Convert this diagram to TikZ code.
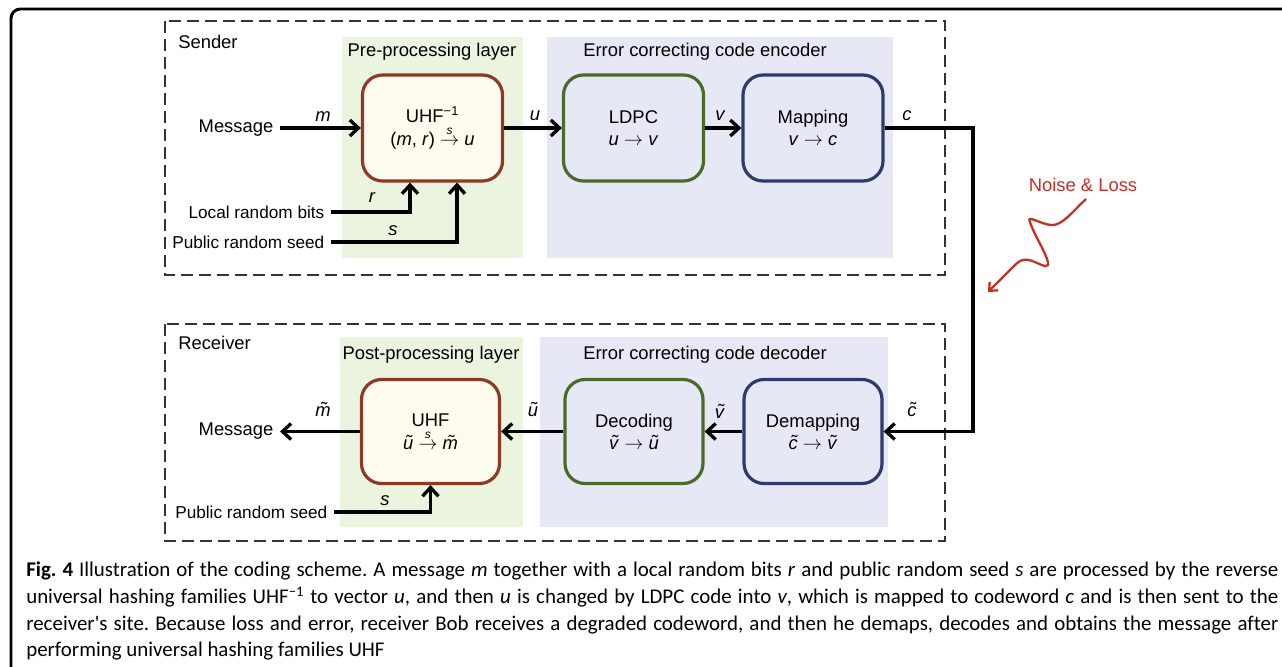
\documentclass[tikz,border=0pt]{standalone}
\usepackage{fontspec}
\setmainfont{Liberation Sans}
\newfontfamily\capfont[Ligatures={NoCommon}]{Carlito}
\usetikzlibrary{arrows.meta,calc}

\definecolor{layergreen}{HTML}{EAF4DE}
\definecolor{layerblue}{HTML}{E6E8F5}
\definecolor{uhfborder}{HTML}{8B3A24}
\definecolor{ldpcborder}{HTML}{4B6B2C}
\definecolor{mapborder}{HTML}{2F3A6C}
\definecolor{uhffill}{HTML}{FFFBEF}
\definecolor{noisered}{HTML}{C62D25}
\definecolor{framegray}{HTML}{333333}

\newcommand{\tl}[1]{{\ooalign{\textit{#1}\cr\hidewidth\kern0.15em\raisebox{0.1ex}{\char"02DC}\hidewidth\cr}}}
\newcommand{\sto}{\ensuremath{\stackrel{\raisebox{1.2pt}{\fontsize{9}{9}\selectfont\itshape s}}{\rightarrow}}}

\tikzset{
  dtext/.style={font=\fontsize{13.8}{16.5}\selectfont, inner sep=0pt},
  vlbl/.style={font=\fontsize{13.8}{16.5}\selectfont\itshape, inner sep=0pt},
  src/.style={dtext, outer xsep=5pt},
  smallsrc/.style={src, font=\fontsize{12.9}{15}\selectfont},
  proc/.style={draw, line width=2.4pt, rounded corners=15pt, align=center,
    font=\fontsize{13.8}{16.5}\selectfont, inner sep=0pt},
  sendbox/.style={proc, minimum width=105pt, minimum height=79.5pt},
  recvbox/.style={proc, minimum width=103.5pt, minimum height=78pt},
  conn/.style={line width=2.5pt},
  arr/.style={conn, -{Straight Barb[length=6.5pt,width=12pt]}},
  frame/.style={draw=framegray, line width=1.1pt, dash pattern=on 9pt off 4.5pt},
}

\begin{document}
\begin{tikzpicture}[x=0.75pt, y=-0.75pt]
\useasboundingbox (0,0) rectangle (1282,667);

% outer frame
\draw[line width=2.2pt, rounded corners=7pt] (11,672) -- (11,9) -- (1290,9);

% dashed site frames
\draw[frame] (165,21) rectangle (945,275);
\draw[frame] (165,324) rectangle (945,541);

% layers
\fill[layergreen] (342,37) rectangle (523,258);
\fill[layerblue] (547,37) rectangle (893,258);
\fill[layergreen] (340,337) rectangle (523,527);
\fill[layerblue] (540,337) rectangle (888,527);

\node[dtext, anchor=west] (sender) at (178,42) {Sender};
\node[dtext, anchor=west] (receiver) at (178,343) {Receiver};
\node[dtext] (pre) at (432,52) {Pre-processing layer};
\node[dtext] (enc) at (705,52) {Error correcting code encoder};
\node[dtext] (post) at (431,355) {Post-processing layer};
\node[dtext] (decl) at (705,355) {Error correcting code decoder};

% sender boxes
\node[sendbox, draw=uhfborder, fill=uhffill] (uhfi) at (432.5,128)
  {UHF\textsuperscript{\char"2212 1}\\[1pt](\textit{m}, \textit{r}) \sto\ \textit{u}};
\node[sendbox, draw=ldpcborder] (ldpc) at (633.5,128)
  {LDPC\\\textit{u} $\rightarrow$ \textit{v}};
\node[sendbox, draw=mapborder] (map) at (813,128)
  {Mapping\\\textit{v} $\rightarrow$ \textit{c}};

% receiver boxes
\node[recvbox, draw=uhfborder, fill=uhffill] (uhf) at (430.5,431.5)
  {UHF\\[1pt]\tl{u} \sto\ \tl{m}};
\node[recvbox, draw=ldpcborder] (dec) at (634,431.5)
  {Decoding\\\tl{v} $\rightarrow$ \tl{u}};
\node[recvbox, draw=mapborder] (demap) at (813,431.5)
  {Demapping\\\tl{c} $\rightarrow$ \tl{v}};

% sources / sinks
\node[src, anchor=east] (msg1) at (280,128) {Message};
\node[smallsrc, anchor=east] (loc) at (331,212) {Local random bits};
\node[smallsrc, anchor=east] (seed1) at (331,242) {Public random seed};
\node[src, anchor=east] (msg2) at (280,431.5) {Message};
\node[smallsrc, anchor=east] (seed2) at (334,512) {Public random seed};

% sender connectors
\draw[arr] (msg1.east) -- (uhfi.west);
\draw[arr] (loc.east) -| ($(uhfi.south)+(-22.5,0)$);
\draw[arr] (seed1.east) -| ($(uhfi.south)+(24.5,0)$);
\draw[arr] (uhfi.east) -- (ldpc.west);
\draw[arr] (ldpc.east) -- (map.west);
\coordinate (c1) at (973,128);
\coordinate (c2) at (973,431.5);
\draw[arr] (map.east) -- (c1) -- (c2) -- (demap.east);

% receiver connectors
\draw[arr] (demap.west) -- (dec.east);
\draw[arr] (dec.west) -- (uhf.east);
\draw[arr] (uhf.west) -- (msg2.east);
\draw[arr] (seed2.east) -| (uhf.south);

% connector labels
\node[vlbl] (lm) at (323,117) {m};
\node[vlbl] (lu) at (535,116) {u};
\node[vlbl] (lv) at (720,116) {v};
\node[vlbl] (lc) at (907,116) {c};
\node[vlbl] (lr) at (372,198) {r};
\node[vlbl] (ls1) at (393,231) {s};
\node[dtext] (lmt) at (323,412) {\tl{m}};
\node[dtext] (lut) at (533,412) {\tl{u}};
\node[dtext] (lvt) at (720,414) {\tl{v}};
\node[dtext] (lct) at (912,412) {\tl{c}};
\node[vlbl] (ls2) at (385,501) {s};

% noise
\node[dtext, text=noisered] (noise) at (1083,185) {Noise \& Loss};
\draw[noisered, line width=1.7pt, -{Straight Barb[length=5pt,width=9pt]}]
  (1086,199) .. controls (1072,212) and (1062,226) .. (1051,225)
  .. controls (1040,224) and (1026,214) .. (1030,222)
  .. controls (1034,236) and (1056,268) .. (1045,266)
  .. controls (1036,264) and (1026,254) .. (1016,264)
  -- (988,292);

% caption
\node[anchor=north west, text width=939pt, align=justify, inner sep=0pt,
  font=\capfont\fontsize{15.7}{20}\selectfont\frenchspacing] (cap) at (26,562)
{\textbf{Fig. 4} Illustration of the coding scheme. A message \textit{m} together with a local random bits \textit{r} and public random seed \textit{s} are processed by the reverse\linebreak
universal hashing families UHF\textsuperscript{\char"2212 1} to vector \textit{u}, and then \textit{u} is changed by LDPC code into \textit{v}, which is mapped to codeword \textit{c} and is then sent to the\linebreak
receiver's site. Because loss and error, receiver Bob receives a degraded codeword, and then he demaps, decodes and obtains the message after\linebreak
performing universal hashing families UHF};
\end{tikzpicture}
\end{document}
